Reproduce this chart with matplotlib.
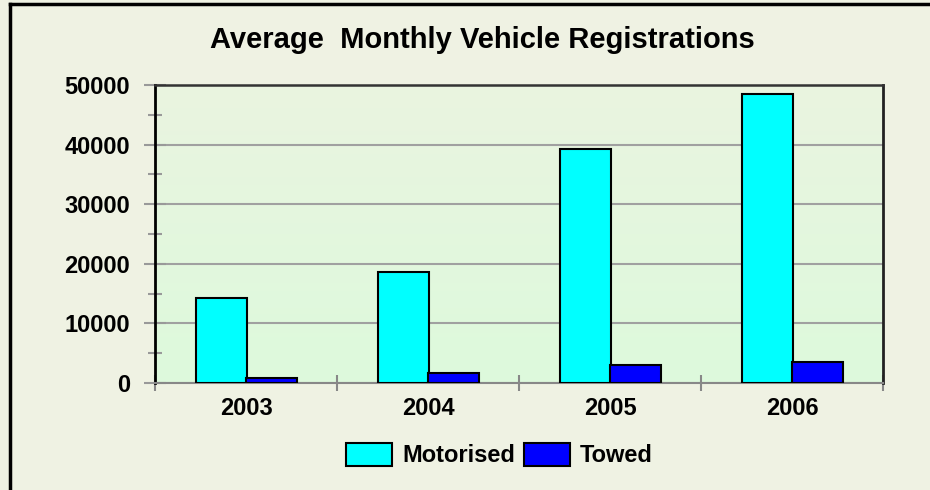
import numpy as np
import matplotlib
matplotlib.use("Agg")
import matplotlib.pyplot as plt
from matplotlib.lines import Line2D

plt.rcParams['font.family'] = ['Liberation Sans', 'DejaVu Sans']

# data
years = ["2003", "2004", "2005", "2006"]
motorised = [14200, 18700, 39200, 48500]
towed = [800, 1700, 3000, 3500]

fig = plt.figure(figsize=(9.3, 4.9), dpi=100)
fig.patch.set_facecolor("#eff2e3")

# partial frame (left and top edges visible in the reference)
fig.add_artist(Line2D([0.0108, 0.0108], [0.0, 0.992], transform=fig.transFigure,
                      color="black", lw=2.5))
fig.add_artist(Line2D([0.0108, 1.0], [0.992, 0.992], transform=fig.transFigure,
                      color="black", lw=2.5))

ax = fig.add_axes([0.1667, 0.2184, 0.7828, 0.6081])

# gradient plot area
grad = np.linspace(0, 1, 256).reshape(-1, 1)
top_c = np.array([0xea, 0xf4, 0xe0]) / 255
bot_c = np.array([0xdd, 0xfa, 0xdc]) / 255
img = top_c * (1 - grad[..., None]) + bot_c * grad[..., None]
ax.imshow(img, extent=[0, 1, 0, 1], transform=ax.transAxes, aspect="auto", zorder=0)

x = np.arange(len(years))
w = 0.285
ax.bar(x - 0.135, motorised, w, color="#00ffff", edgecolor="black", lw=1.5,
       label="Motorised", zorder=3)
ax.bar(x + 0.14, towed, w, color="#0000ff", edgecolor="black", lw=1.5,
       label="Towed", zorder=3)

ax.set_xlim(-0.5, 3.5)
ax.set_ylim(0, 50000)

ax.set_yticks(range(0, 50001, 10000))
ax.set_yticks(range(5000, 50000, 10000), minor=True)
ax.yaxis.grid(True, color="#a0a0a0", lw=1.5, zorder=1)
ax.set_axisbelow(True)

ax.set_xticks(x)
ax.set_xticklabels(years)
ax.set_xticks(np.arange(-0.5, 3.6, 1.0), minor=True)
ax.tick_params(axis="x", which="major", length=0, pad=10, labelsize=17)
ax.tick_params(axis="x", which="minor", direction="inout", length=11, width=1.5, color="#888888")
ax.tick_params(axis="y", which="major", direction="inout", length=16, width=1.5,
               color="#999999", labelsize=17, pad=10)
ax.tick_params(axis="y", which="minor", direction="inout", length=10, width=1.5, color="#999999")
for lbl in ax.get_xticklabels() + ax.get_yticklabels():
    lbl.set_fontweight("bold")

ax.spines["left"].set_color("black")
ax.spines["left"].set_linewidth(2)
ax.spines["bottom"].set_color("#888888")
ax.spines["bottom"].set_linewidth(1.5)
ax.spines["top"].set_color("#333333")
ax.spines["top"].set_linewidth(1.8)
ax.spines["right"].set_color("#222222")
ax.spines["right"].set_linewidth(2)

fig.text(0.519, 0.918, "Average  Monthly Vehicle Registrations", ha="center", va="center",
         fontsize=21, fontweight="bold")

leg = fig.legend(loc="center", bbox_to_anchor=(0.537, 0.071), ncol=2, frameon=False,
                 prop={"weight": "bold", "size": 17}, handlelength=1.95, handleheight=1.1,
                 handletextpad=0.45, columnspacing=0.35)

fig.savefig("out.png", dpi=100, facecolor=fig.get_facecolor())
